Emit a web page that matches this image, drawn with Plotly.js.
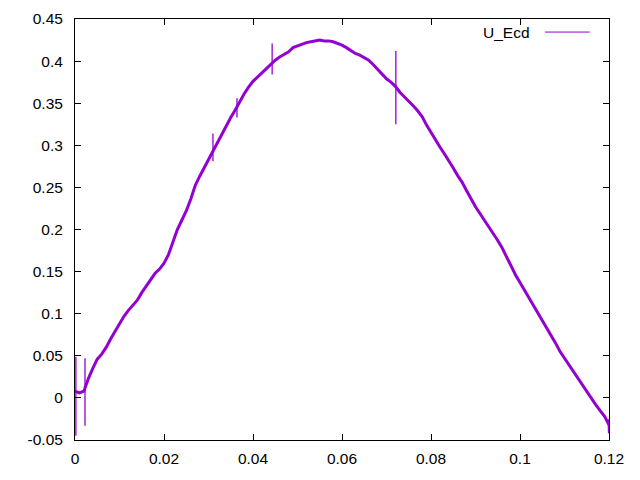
<!DOCTYPE html>
<html>
<head>
<meta charset="utf-8">
<script src="https://cdn.plot.ly/plotly-3.0.1.min.js"></script>
<style>html,body{margin:0;padding:0;background:#fff}#chart{width:640px;height:480px}</style>
</head>
<body>
<div id="chart"></div>
<script>
// Main curve U_Ecd (step 0.001)
const xMain = [
0.000,0.001,0.002,0.003,0.004,0.005,0.006,0.007,0.008,0.009,
0.010,0.011,0.012,0.013,0.014,0.015,0.016,0.017,0.018,0.019,
0.020,0.021,0.022,0.023,0.024,0.025,0.026,0.027,0.028,0.029,
0.030,0.031,0.032,0.033,0.034,0.035,0.036,0.037,0.038,0.039,
0.040,0.041,0.042,0.043,0.044,0.045,0.046,0.047,0.048,0.049,
0.050,0.051,0.052,0.053,0.054,0.055,0.056,0.057,0.058,0.059,
0.060,0.061,0.062,0.063,0.064,0.065,0.066,0.067,0.068,0.069,
0.070,0.071,0.072,0.073,0.074,0.075,0.076,0.077,0.078,0.079,
0.080,0.081,0.082,0.083,0.084,0.085,0.086,0.087,0.088,0.089,
0.090,0.091,0.092,0.093,0.094,0.095,0.096,0.097,0.098,0.099,
0.100,0.101,0.102,0.103,0.104,0.105,0.106,0.107,0.108,0.109,
0.110,0.111,0.112,0.113,0.114,0.115,0.116,0.117,0.118,0.119,
0.120];
const yMain = [
0.008,0.006,0.008,0.023,0.035,0.046,0.052,0.060,0.070,0.079,
0.089,0.097,0.104,0.110,0.116,0.125,0.133,0.141,0.148,0.153,
0.160,0.170,0.185,0.200,0.211,0.222,0.236,0.252,0.263,0.273,
0.283,0.293,0.304,0.314,0.323,0.333,0.342,0.352,0.361,0.369,
0.376,0.381,0.386,0.391,0.397,0.401,0.405,0.408,0.411,0.416,
0.418,0.420,0.422,0.423,0.424,0.425,0.424,0.424,0.423,0.421,
0.419,0.416,0.412,0.409,0.407,0.404,0.401,0.396,0.390,0.385,
0.379,0.375,0.370,0.363,0.358,0.353,0.347,0.341,0.334,0.324,
0.315,0.306,0.298,0.290,0.282,0.273,0.264,0.256,0.246,0.236,
0.227,0.219,0.211,0.204,0.196,0.187,0.178,0.167,0.155,0.146,
0.137,0.128,0.119,0.110,0.101,0.092,0.084,0.075,0.065,0.055,
0.047,0.040,0.031,0.023,0.015,0.007,-0.001,-0.008,-0.015,-0.022,
-0.032];
// Thin spikes in the same series (null separates them)
const xSpike = [0.0002,0.0002,null,0.00225,0.00225,null,0.0310,0.0310,null,0.0364,0.0364,null,0.0443,0.0443,null,0.0721,0.0721,null,0.1198,0.1199];
const ySpike = [0.049,-0.045,null,0.047,-0.033,null,0.314,0.281,null,0.356,0.333,null,0.421,0.384,null,0.412,0.325,null,-0.025,-0.042];
const seriesName = "U_Ecd";
const xTicks = [0,0.02,0.04,0.06,0.08,0.1,0.12];
const xTickText = ["0","0.02","0.04","0.06","0.08","0.1","0.12"];
const yTicks = [-0.05,0,0.05,0.1,0.15,0.2,0.25,0.3,0.35,0.4,0.45];
const yTickText = ["-0.05","0","0.05","0.1","0.15","0.2","0.25","0.3","0.35","0.4","0.45"];

const color = "#9400d3";
const font = {family: "Liberation Sans, Arial, sans-serif", size: 15.5, color: "#000"};

const traces = [
  {x: xMain, y: yMain, type: "scatter", mode: "lines", name: seriesName,
   line: {color: color, width: 3}, showlegend: false},
  {x: xSpike, y: ySpike, type: "scatter", mode: "lines", name: seriesName,
   line: {color: color, width: 1.3}, connectgaps: false, showlegend: false}
];

const axisCommon = {
  showgrid: false, zeroline: false, showline: true, linecolor: "#000", linewidth: 1,
  mirror: "ticks", ticks: "inside", ticklen: 6, tickwidth: 1, tickcolor: "#000",
  tickfont: font, tickmode: "array"
};

const layout = {
  width: 640, height: 480,
  margin: {l: 75, r: 31, t: 19, b: 40, pad: 0},
  paper_bgcolor: "#fff", plot_bgcolor: "#fff",
  font: font,
  xaxis: Object.assign({}, axisCommon, {range: [0, 0.12], tickvals: xTicks, ticktext: xTickText, ticklabelstandoff: 4}),
  yaxis: Object.assign({}, axisCommon, {range: [-0.05, 0.45], tickvals: yTicks, ticktext: yTickText, ticklabelstandoff: 8}),
  showlegend: false,
  annotations: [{xref: "paper", yref: "paper", x: 0.856, y: 0.969, xanchor: "right", yanchor: "middle",
    text: seriesName, showarrow: false, font: font}],
  shapes: [{type: "line", xref: "paper", yref: "paper", x0: 0.880, x1: 0.964, y0: 0.969, y1: 0.969,
    line: {color: color, width: 1}}]
};

Plotly.newPlot("chart", traces, layout, {staticPlot: true, displayModeBar: false});
</script>
</body>
</html>
